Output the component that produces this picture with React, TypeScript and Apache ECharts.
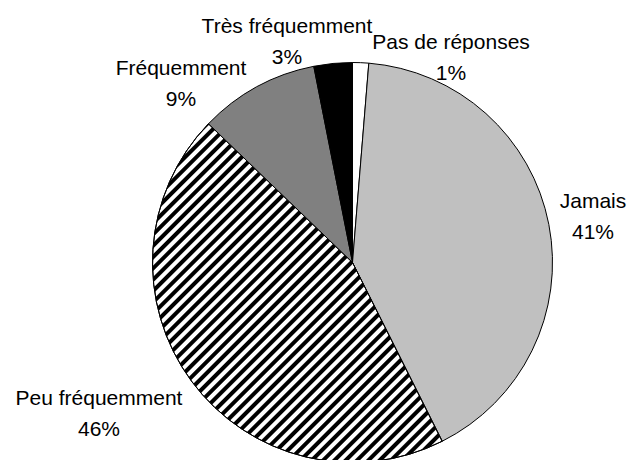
import React, { useEffect, useRef } from "react";
import * as echarts from "echarts";

const categories = ["Pas de réponses", "Jamais", "Peu fréquemment", "Fréquemment", "Très fréquemment"];
const values = [1.3, 41.3, 44.6, 9.7, 3.1];
const percentLabels = ["1%", "41%", "46%", "9%", "3%"];
const sliceColors = ["#ffffff", "#c0c0c0", "#ffffff", "#808080", "#000000"];
const labelPositions: [number, number][] = [
  [451, 57],
  [593, 216],
  [99, 413],
  [181, 83],
  [287, 41],
];

export default function App() {
  const ref = useRef<HTMLDivElement>(null);
  useEffect(() => {
    if (!ref.current) return;
    const chart = echarts.init(ref.current, null, { renderer: "svg" });
    const data = categories.map((name, i) => {
      const item: any = {
        name,
        value: values[i],
        itemStyle: { color: sliceColors[i] },
      };
      if (i === 2) {
        item.itemStyle.decal = {
          symbol: "rect",
          color: "#000000",
          dashArrayX: [1, 0],
          dashArrayY: [4, 4],
          rotation: -Math.PI / 4,
          symbolSize: 1,
        };
      }
      return item;
    });
    chart.setOption({
      animation: false,
      backgroundColor: "#ffffff",
      series: [
        {
          type: "pie",
          center: [352.5, 262.5],
          radius: 200,
          startAngle: 90,
          clockwise: true,
          avoidLabelOverlap: false,
          data,
          itemStyle: { borderColor: "#000000", borderWidth: 1 },
          emphasis: { disabled: true },
          labelLine: { show: false },
          label: {
            show: true,
            position: "outside",
            formatter: (p: any) => `${p.name}\n${percentLabels[p.dataIndex]}`,
            fontFamily: "Liberation Sans",
            fontSize: 21,
            lineHeight: 31,
            color: "#000000",
            align: "center",
          },
          labelLayout: (params: any) => {
            const pos = labelPositions[params.dataIndex];
            return { x: pos[0], y: pos[1], align: "center", verticalAlign: "middle" };
          },
        },
      ],
    });
    return () => chart.dispose();
  }, []);
  return (
    <div
      ref={ref}
      style={{ position: "fixed", left: 0, top: 0, width: 628, height: 460 }}
    />
  );
}
